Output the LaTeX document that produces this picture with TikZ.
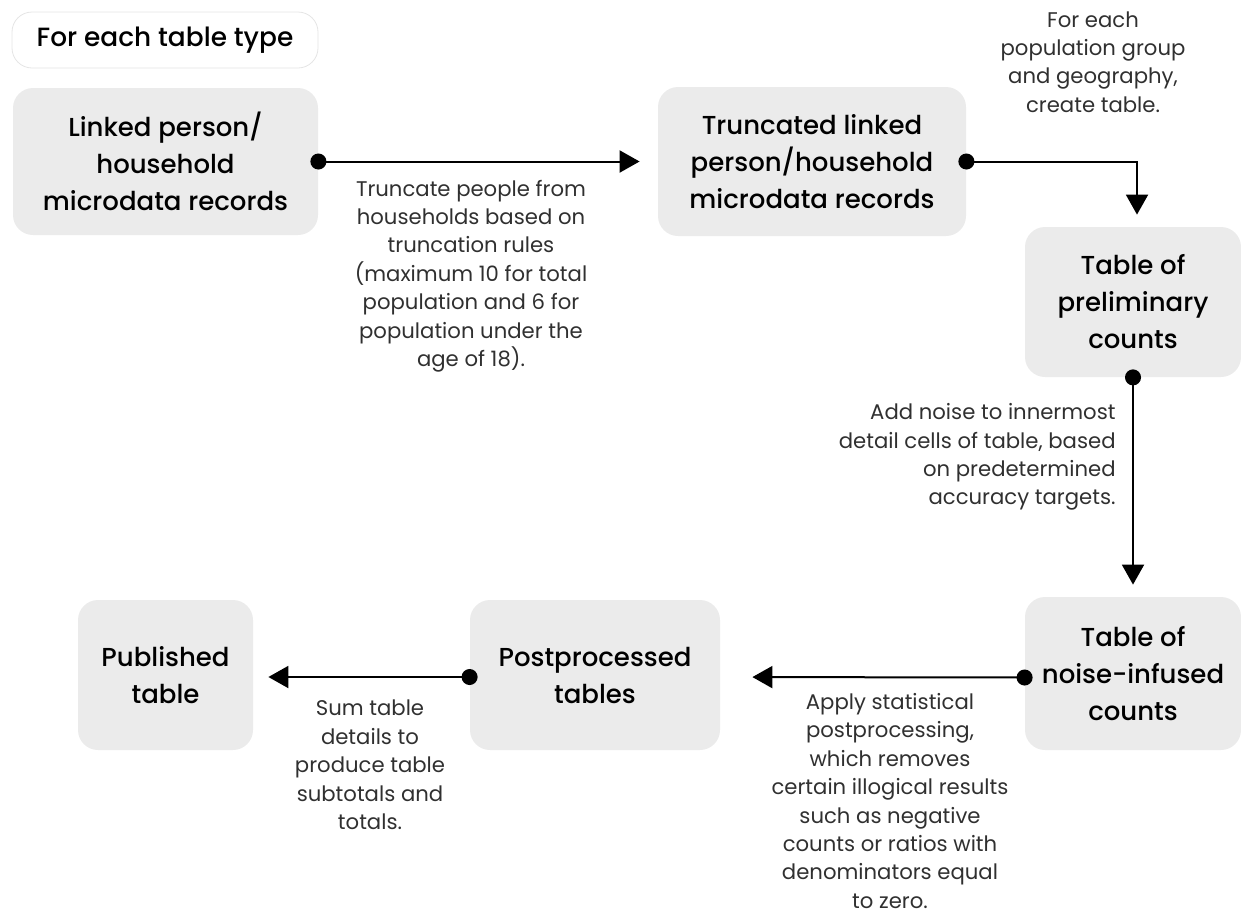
\documentclass[tikz,border=0pt]{standalone}
\usepackage{fontspec}
\setmainfont{Poppins}[BoldFont={Poppins Medium}]
\usetikzlibrary{arrows.meta}
\definecolor{boxgray}{HTML}{EBEBEB}
\definecolor{txtgray}{HTML}{303030}
\begin{document}
\begin{tikzpicture}[x=0.5pt,y=-0.5pt,
	every node/.style={align=center,inner sep=0,text=txtgray,
	font=\fontsize{10.6}{14.2}\selectfont},
	stage/.style={fill=boxgray,rounded corners=10pt,text=black,
	font=\fontsize{13}{18.5}\selectfont\bfseries},
	flow/.style={line width=1pt,shorten <=-4pt,
	{Circle[length=8pt]}-{Triangle[length=10pt,width=11pt]}}]
\useasboundingbox (0,0) rectangle (1241,916);
% boxes
\node[draw=gray!20,fill=white,rounded corners=10pt,minimum width=153pt,minimum height=28pt,
	text=black,font=\fontsize{13.2}{15}\selectfont\bfseries] (type) at (165,40) {For each table type};
\node[stage,minimum width=152.5pt,minimum height=73.5pt] (linked) at (165.5,161.5)
	{Linked person/\\household\\microdata records};
\node[stage,minimum width=154pt,minimum height=74.5pt] (trunc) at (812,161.5)
	{Truncated linked\\person/household\\microdata records};
\node[stage,minimum width=108pt,minimum height=75pt] (prelim) at (1133,302)
	{Table of\\preliminary\\counts};
\node[stage,minimum width=108pt,minimum height=76.5pt] (noise) at (1133,673.5)
	{Table of\\noise-infused\\counts};
\node[stage,minimum width=125pt,minimum height=75pt] (post) at (595,675)
	{Postprocessed\\tables};
\node[stage,minimum width=87.5pt,minimum height=75pt] (pub) at (165.5,675)
	{Published\\table};
% connectors
\draw[flow,shorten >=9pt] (linked) -- (trunc);
\draw[flow,shorten >=6pt] (trunc.east) -| ([xshift=2pt]prelim.north);
\draw[flow,shorten >=6pt] (prelim.south) -- (noise.north);
\draw[flow,shorten >=16pt] ([yshift=-2pt]noise.west) -- ([yshift=-1pt]post.east);
\draw[flow,shorten >=7.5pt] ([yshift=-1pt]post.west) -- ([yshift=-1pt]pub.east);
% labels
\node (l1) at (471,276) {Truncate people from\\households based on\\truncation rules\\(maximum 10 for total\\population and 6 for\\population under the\\age of 18).};
\node (l2) at (1093,62) {For each\\population group\\and geography,\\create table.};
\node[anchor=east,align=right] (l3) at (1116,457) {Add noise to innermost\\detail cells of table, based\\on predetermined\\accuracy targets.};
\node (l4) at (890,801) {Apply statistical\\postprocessing,\\which removes\\certain illogical results\\such as negative\\counts or ratios with\\denominators equal\\to zero.};
\node (l5) at (370,765) {Sum table\\details to\\produce table\\subtotals and\\totals.};
\end{tikzpicture}
\end{document}
